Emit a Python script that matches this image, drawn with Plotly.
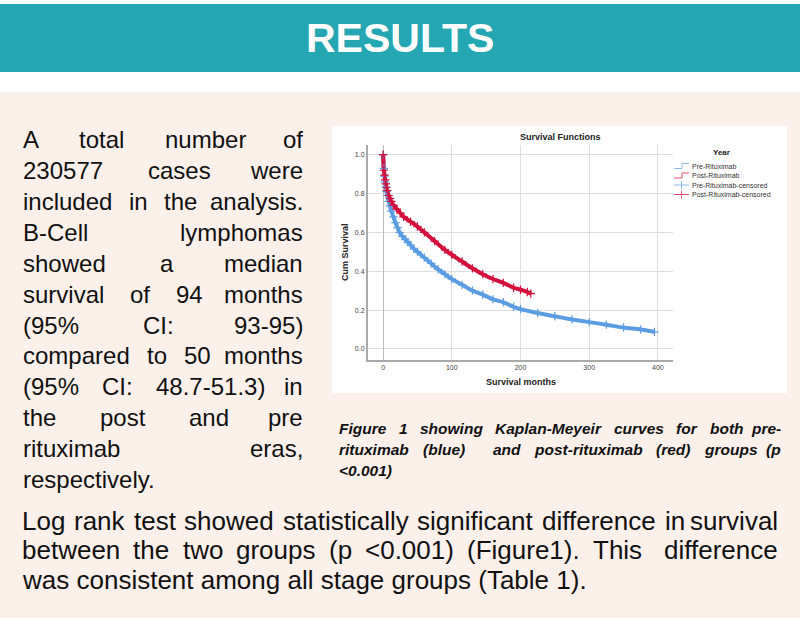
import plotly.graph_objects as go

# ---------------- data ----------------
pre_months = [0, 1, 2, 3, 4, 5, 6, 8, 10, 12, 15, 18, 21, 24, 28, 32, 36, 40, 45, 50, 60, 70, 80, 90, 100,
              115, 130, 145, 160, 175, 190, 200, 225, 250, 275, 300, 325, 350, 375, 395]
pre_surv = [1.0, 0.93, 0.89, 0.86, 0.835, 0.81, 0.79, 0.76, 0.735, 0.71, 0.68, 0.65, 0.625, 0.60, 0.58, 0.565, 0.55,
            0.535, 0.515, 0.50, 0.47, 0.44, 0.41, 0.385, 0.36, 0.33, 0.30, 0.28, 0.255, 0.24, 0.217, 0.205, 0.185,
            0.168, 0.152, 0.138, 0.125, 0.11, 0.10, 0.088]
post_months = [0, 1, 2, 3, 4, 5, 6, 8, 10, 12, 15, 20, 25, 30, 40, 50, 60, 75, 90, 100, 115, 130, 145, 160, 175,
               190, 200, 210, 215]
post_surv = [1.0, 0.92, 0.895, 0.87, 0.85, 0.83, 0.815, 0.79, 0.775, 0.76, 0.74, 0.72, 0.70, 0.68, 0.655, 0.63, 0.60,
             0.555, 0.51, 0.485, 0.45, 0.415, 0.385, 0.36, 0.34, 0.315, 0.305, 0.293, 0.285]
x_ticks = [0, 100, 200, 300, 400]
y_ticks = [0.0, 0.2, 0.4, 0.6, 0.8, 1.0]
series_names = ["Pre-Rituximab", "Post-Rituximab", "Pre-Rituximab-censored", "Post-Rituximab-censored"]

W, H = 800, 622
def px(x): return x / W
def py(y): return 1 - y / H

BLUE = "#5b9de2"
RED = "#d3103c"
BLUE_L = "#8cbbea"
RED_L = "#e2506f"
TEAL = "#24a6b3"
PINK = "#fcf0eb"

# Arial / Liberation Sans advance widths (1/1000 em)
REG = {' ': 278, '(': 333, ')': 333, ',': 278, '-': 333, '.': 278, ':': 278, '%': 889, '<': 584,
       'A': 667, 'B': 667, 'C': 722, 'D': 722, 'E': 667, 'F': 611, 'I': 278, 'K': 667, 'L': 556, 'M': 833,
       'T': 611, 'a': 556, 'b': 556, 'c': 500, 'd': 556, 'e': 556, 'f': 278, 'g': 556, 'h': 556, 'i': 222,
       'j': 222, 'k': 500, 'l': 222, 'm': 833, 'n': 556, 'o': 556, 'p': 556, 'q': 556, 'r': 333, 's': 500,
       't': 278, 'u': 556, 'v': 500, 'w': 722, 'x': 500, 'y': 500, 'z': 500}
BOLD = {' ': 278, '(': 333, ')': 333, ',': 278, '-': 333, '.': 278, ':': 333, '%': 889, '<': 584,
        'F': 611, 'K': 722, 'M': 833, 'a': 556, 'b': 611, 'c': 556, 'd': 611, 'e': 556, 'f': 333, 'g': 611,
        'h': 611, 'i': 278, 'j': 278, 'k': 556, 'l': 278, 'm': 889, 'n': 611, 'o': 611, 'p': 611, 'q': 611,
        'r': 389, 's': 556, 't': 333, 'u': 611, 'v': 556, 'w': 778, 'x': 556, 'y': 556, 'z': 500}

def tw(s, size, bold=False):
    tab = BOLD if bold else REG
    return sum(tab.get(c, 556) for c in s) / 1000 * size

annotations = []

def add_text(t, x, y, font, xanchor="left", **kw):
    annotations.append(dict(text=t, x=px(x), y=py(y), xref="paper", yref="paper", showarrow=False,
                            font=font, xanchor=xanchor, yanchor="middle", **kw))

def justify(words, x0, x1, y, font, bold=False, italic=False, weights=None, just=True):
    size = font["size"]
    wrap = (lambda w: f"<b><i>{w}</i></b>") if (bold and italic) else (lambda w: w)
    esc = lambda w: w.replace("<", "&lt;")
    if not just or len(words) == 1:
        add_text(wrap(esc(" ".join(words))), x0, y, font)
        return
    weights = weights or [1] * (len(words) - 1)
    nat = sum(tw(w, size, bold) for w in words)
    unit = (x1 - x0 - nat) / sum(weights)
    x = x0
    for i, w in enumerate(words):
        if i == len(words) - 1:
            add_text(wrap(esc(w)), x1, y, font, xanchor="right")
        else:
            add_text(wrap(esc(w)), x, y, font)
            x += tw(w, size, bold) + unit * weights[i]

fig = go.Figure()
fig.add_trace(go.Scatter(x=pre_months, y=pre_surv, mode="lines", line=dict(color=BLUE, width=4, shape="spline", smoothing=0.6),
                         name=series_names[0], showlegend=False))
fig.add_trace(go.Scatter(x=post_months, y=post_surv, mode="lines", line=dict(color=RED, width=4, shape="spline", smoothing=0.6),
                         name=series_names[1], showlegend=False))
fig.add_trace(go.Scatter(x=pre_months, y=pre_surv, mode="markers",
                         marker=dict(symbol="cross-thin", size=6, line=dict(color=BLUE, width=1.2)),
                         name=series_names[2], showlegend=False))
fig.add_trace(go.Scatter(x=post_months, y=post_surv, mode="markers",
                         marker=dict(symbol="cross-thin", size=6, line=dict(color=RED, width=1.2)),
                         name=series_names[3], showlegend=False))

shapes = []
shapes.append(dict(type="rect", xref="paper", yref="paper", x0=0, x1=1, y0=py(72), y1=py(4), fillcolor=TEAL, line=dict(width=0), layer="below"))
shapes.append(dict(type="rect", xref="paper", yref="paper", x0=0, x1=1, y0=py(618), y1=py(92), fillcolor=PINK, line=dict(width=0), layer="below"))
shapes.append(dict(type="rect", xref="paper", yref="paper", x0=px(332), x1=px(787), y0=py(393), y1=py(126), fillcolor="white", line=dict(width=0), layer="below"))

add_text("<b>RESULTS</b>", 400, 38, dict(family="Liberation Sans", size=41, color="white"), xanchor="center")

# chart texts
cf = dict(family="Liberation Sans", size=9, color="#222")
add_text("<b>Survival Functions</b>", 560, 137, cf, xanchor="center")
add_text("<b>Survival months</b>", 521, 382, cf, xanchor="center")
add_text("<b>Cum Survival</b>", 345, 252, cf, xanchor="center", textangle=-90)

# legend (drawn manually)
add_text("<b>Year</b>", 721, 152, dict(family="Liberation Sans", size=8, color="#222"), xanchor="center")
leg_y = [166, 175.5, 185, 194.5]
leg_cols = [BLUE_L, RED_L, BLUE_L, RED_L]
for i, (name, yy, c) in enumerate(zip(series_names, leg_y, leg_cols)):
    add_text(name, 690, yy, dict(family="Liberation Sans", size=7, color="#333"))
    if i < 2:
        path = f"M {px(674)},{py(yy+2.5)} L {px(682)},{py(yy+2.5)} L {px(682)},{py(yy-2.5)} L {px(689)},{py(yy-2.5)}"
        shapes.append(dict(type="path", xref="paper", yref="paper", path=path, line=dict(color=c, width=1)))
    else:
        shapes.append(dict(type="line", xref="paper", yref="paper", x0=px(674), x1=px(689), y0=py(yy), y1=py(yy), line=dict(color=c, width=1)))
        shapes.append(dict(type="line", xref="paper", yref="paper", x0=px(681.5), x1=px(681.5), y0=py(yy-4), y1=py(yy+4), line=dict(color=c, width=1)))

# left paragraph (justified)
para_font = dict(family="Liberation Sans", size=24, color="#111")
para = ["A total number of", "230577 cases were", "included in the analysis.", "B-Cell lymphomas",
        "showed a median", "survival of 94 months", "(95% CI: 93-95)", "compared to 50 months",
        "(95% CI: 48.7-51.3) in", "the post and pre", "rituximab eras,", "respectively."]
for i, line in enumerate(para):
    justify(line.split(), 21, 305, 140 + 30.85 * i, para_font, just=(i < len(para) - 1))

# caption
cap_font = dict(family="Liberation Sans", size=15.5, color="#111")
justify("Figure 1 showing Kaplan-Meyeir curves for both pre-".split(), 337, 783, 428, cap_font, bold=True, italic=True)
justify("rituximab (blue) and post-rituximab (red) groups (p".split(), 337, 783, 449, cap_font, bold=True, italic=True,
        weights=[1, 2, 1, 1, 1, 1])
justify(["<0.001)"], 337, 783, 470, cap_font, bold=True, italic=True, just=False)

# bottom paragraph
bot_font = dict(family="Liberation Sans", size=26, color="#111")
justify("Log rank test showed statistically significant difference in survival".split(), 20, 780, 521, bot_font)
justify("between the two groups (p <0.001) (Figure1). This difference".split(), 20, 780, 550, bot_font,
        weights=[1, 1, 1, 1, 1, 1, 1, 2])
justify("was consistent among all stage groups (Table 1).".split(), 20, 780, 580, bot_font, just=False)

fig.update_layout(
    width=W, height=H, margin=dict(l=0, r=0, t=0, b=0),
    paper_bgcolor="white", plot_bgcolor="white",
    showlegend=False,
    shapes=shapes, annotations=annotations,
    xaxis=dict(domain=[px(368), px(673)], range=[-22, 422], tickvals=x_ticks, ticktext=[str(v) for v in x_ticks],
               showgrid=True, gridcolor="#dedede", gridwidth=1, zeroline=True, zerolinecolor="#bdbdbd", zerolinewidth=1,
               showline=True, linecolor="#aaaaaa", linewidth=2, ticks="", fixedrange=True,
               tickfont=dict(family="Liberation Sans", size=7, color="#444")),
    yaxis=dict(domain=[py(360), py(145)], range=[-0.057, 1.05], tickvals=y_ticks, ticktext=[f"{v:.1f}" for v in y_ticks],
               showgrid=True, gridcolor="#dedede", gridwidth=1, zeroline=False,
               showline=True, linecolor="#aaaaaa", linewidth=2, ticks="", fixedrange=True,
               tickfont=dict(family="Liberation Sans", size=7, color="#444")),
)

fig.write_html("out.html", config={"displayModeBar": False},
               post_script="document.body.style.margin='0';document.body.style.overflow='hidden';")
